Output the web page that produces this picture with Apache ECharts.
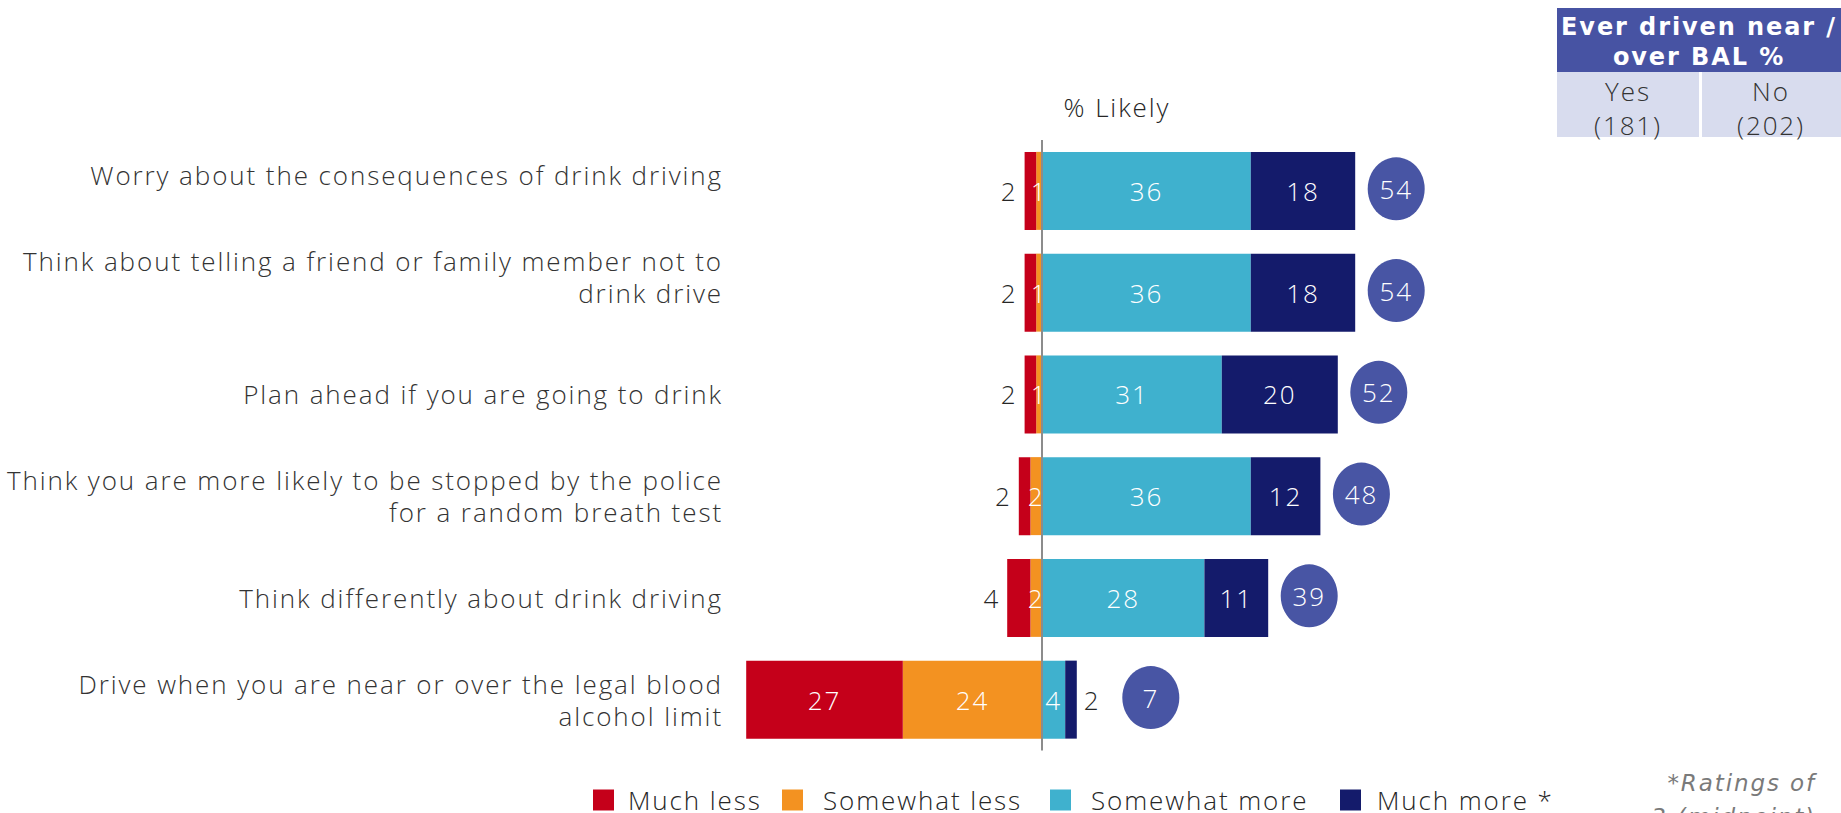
<!DOCTYPE html>
<html>
<head>
<meta charset="utf-8">
<title>Drink driving – % Likely</title>
<script src="https://cdn.jsdelivr.net/npm/echarts@6/dist/echarts.min.js"></script>
<style>
  html, body { margin: 0; padding: 0; background: #ffffff; }
  #chart { width: 1841px; height: 813px; }
  /* the chart's typeface is set with a little extra tracking */
  #chart svg text { letter-spacing: 1.9px; }
</style>
</head>
<body>
<div id="chart"></div>
<script>
// Statements asked about (top to bottom)
const categories = [
  'Worry about the consequences of drink driving',
  'Think about telling a friend or family member not to\ndrink drive',
  'Plan ahead if you are going to drink',
  'Think you are more likely to be stopped by the police\nfor a random breath test',
  'Think differently about drink driving',
  'Drive when you are near or over the legal blood\nalcohol limit'
];

// Response shares (%)
const muchLess     = [2, 2, 2, 2, 4, 27];
const somewhatLess = [1, 1, 1, 2, 2, 24];
const somewhatMore = [36, 36, 31, 36, 28, 4];
const muchMore     = [18, 18, 20, 12, 11, 2];

// Net "% Likely" shown in the bubbles
const netLikely = [54, 54, 52, 48, 39, 7];

// Sub-group results: ever driven near / over BAL
const tableTitle = 'Ever driven near /\nover BAL %';
const tableColumns = ['Yes\n(181)', 'No\n(202)'];
const everYes = [59, 51, 52, 44, 45, 5];
const everNo  = [53, 55, 51, 51, 34, 7];

const seriesNames = ['Much less', 'Somewhat less', 'Somewhat more', 'Much more *'];
const footnote = '*Ratings of\n3 (midpoint)';

const colors = {
  muchLess: '#C5001A',
  somewhatLess: '#F39221',
  somewhatMore: '#3FB1CE',
  muchMore: '#141B6B',
  bubble: '#4855A4',
  tableValue: '#4F5FB5',
  headDark: '#4753A3',
  headLight: '#D8DCEE'
};

const FONT = 'Open Sans';
const darkText = '#262626';

// Segment label: small outer segments get their number outside the bar
function segLabel(v, outsidePos) {
  if (outsidePos && Math.abs(v) < 5) {
    return { show: true, position: outsidePos, distance: 7, color: darkText };
  }
  return { show: true, position: 'inside', color: '#ffffff' };
}

const baseLabel = {
  fontFamily: FONT, fontWeight: 300, fontSize: 26,
  formatter: p => Math.abs(p.value)
};

function barSeries(name, values, sign, color, outsidePos) {
  return {
    name: name,
    type: 'bar',
    stack: 'likely',
    barWidth: 78,
    xAxisIndex: 0, yAxisIndex: 0,
    itemStyle: { color: color },
    label: baseLabel,
    labelLayout: { hideOverlap: false },
    data: values.map(v => ({ value: sign * v, label: segLabel(v, outsidePos) })),
    z: 2
  };
}

// One legend block per key, laid out along the bottom
const legendLeft = [593, 782, 1050, 1340];
const legendTextGap = [9, 15, 15, 11];
const legends = seriesNames.map((name, i) => ({
  data: [name],
  top: 787,
  left: legendLeft[i],
  padding: 0,
  itemWidth: 21, itemHeight: 21,
  icon: 'rect',
  textStyle: {
    fontFamily: FONT, fontWeight: 300, fontSize: 26, lineHeight: 24,
    color: '#262626', padding: [0, 0, 0, legendTextGap[i]]
  }
}));

// Bar end on the positive side, the bubble sits just beyond it
const positiveEnd = somewhatMore.map((v, i) => v + muchMore[i]);

const option = {
  animation: false,
  textStyle: { fontFamily: FONT },
  grid: [
    { left: 723, right: 335, top: 140, bottom: 62.5, containLabel: false },
    { left: 1556, width: 288, top: 140, bottom: 62.5, containLabel: false }
  ],
  xAxis: [
    { type: 'value', gridIndex: 0, min: -55, max: 80, show: false },
    { type: 'category', gridIndex: 1, data: ['Yes', 'No'], show: false }
  ],
  yAxis: [
    {
      type: 'category', gridIndex: 0, inverse: true,
      data: categories,
      axisLine: { show: false }, axisTick: { show: false },
      splitLine: { show: false },
      axisLabel: {
        margin: 0, align: 'right',
        fontFamily: FONT, fontWeight: 300, fontSize: 26, lineHeight: 32,
        color: '#333333',
        // the first two statements sit half a line above their bars
        formatter: (val, idx) => (idx < 2 ? val + '\n ' : val)
      }
    },
    {
      type: 'category', gridIndex: 1, inverse: true,
      data: categories, show: false
    }
  ],
  legend: legends,
  series: [
    // negative side: orange stacks next to zero, red outside it
    barSeries('Somewhat less', somewhatLess, -1, colors.somewhatLess, null),
    barSeries('Much less', muchLess, -1, colors.muchLess, 'left'),
    barSeries('Somewhat more', somewhatMore, 1, colors.somewhatMore, null),
    barSeries('Much more *', muchMore, 1, colors.muchMore, 'right'),
    {
      // zero line
      type: 'line', xAxisIndex: 0, yAxisIndex: 0, data: [],
      markLine: {
        silent: true, symbol: 'none', animation: false,
        label: { show: false },
        lineStyle: { color: '#8c8c8c', width: 2, type: 'solid' },
        data: [{ xAxis: 0 }]
      },
      z: 5
    },
    {
      // net % likely bubbles
      type: 'scatter', xAxisIndex: 0, yAxisIndex: 0,
      symbol: 'circle', symbolSize: [57, 63],
      itemStyle: { color: colors.bubble, opacity: 1 },
      label: {
        show: true, position: 'inside', color: '#ffffff',
        fontFamily: FONT, fontWeight: 300, fontSize: 26,
        formatter: p => netLikely[p.dataIndex]
      },
      data: positiveEnd.map((v, i) => ({
        value: [v, i],
        symbolOffset: [muchMore[i] < 5 ? 74 : 41, -2]
      })),
      z: 6
    },
    {
      // sub-group table values
      type: 'scatter', xAxisIndex: 1, yAxisIndex: 1,
      symbolSize: 1, itemStyle: { opacity: 0 },
      label: {
        show: true, position: 'inside', color: colors.tableValue,
        fontFamily: FONT, fontWeight: 300, fontSize: 26,
        formatter: p => p.value[2]
      },
      data: everYes.map((v, i) => [0, i, v]).concat(everNo.map((v, i) => [1, i, v]))
    }
  ],
  graphic: [
    {
      type: 'text', x: 1117, y: 107,
      style: {
        text: '% Likely', fontFamily: FONT, fontWeight: 300, fontSize: 26,
        fill: '#262626', align: 'center', verticalAlign: 'middle'
      }
    },
    { type: 'rect', shape: { x: 1557, y: 8, width: 290, height: 64 }, style: { fill: colors.headDark } },
    { type: 'rect', shape: { x: 1557, y: 72, width: 142, height: 65 }, style: { fill: colors.headLight } },
    { type: 'rect', shape: { x: 1702, y: 72, width: 145, height: 65 }, style: { fill: colors.headLight } },
    {
      type: 'text', x: 1699, y: 42,
      style: {
        text: tableTitle, fontFamily: 'DejaVu Sans', fontWeight: 'bold', fontSize: 24,
        lineHeight: 30, fill: '#ffffff', align: 'center', verticalAlign: 'middle'
      }
    },
    {
      type: 'text', x: 1628, y: 108,
      style: {
        text: tableColumns[0], fontFamily: FONT, fontWeight: 300, fontSize: 26,
        lineHeight: 34, fill: '#333333', align: 'center', verticalAlign: 'middle'
      }
    },
    {
      type: 'text', x: 1771, y: 108,
      style: {
        text: tableColumns[1], fontFamily: FONT, fontWeight: 300, fontSize: 26,
        lineHeight: 34, fill: '#333333', align: 'center', verticalAlign: 'middle'
      }
    },
    {
      type: 'text', x: 1816, y: 766,
      style: {
        text: footnote, fontFamily: 'DejaVu Sans', fontStyle: 'italic',
        fontSize: 23, lineHeight: 34, fill: '#7a7a7a', align: 'right', verticalAlign: 'top'
      }
    }
  ]
};

const chart = echarts.init(document.getElementById('chart'), null, { renderer: 'svg' });
chart.setOption(option);
</script>
</body>
</html>
